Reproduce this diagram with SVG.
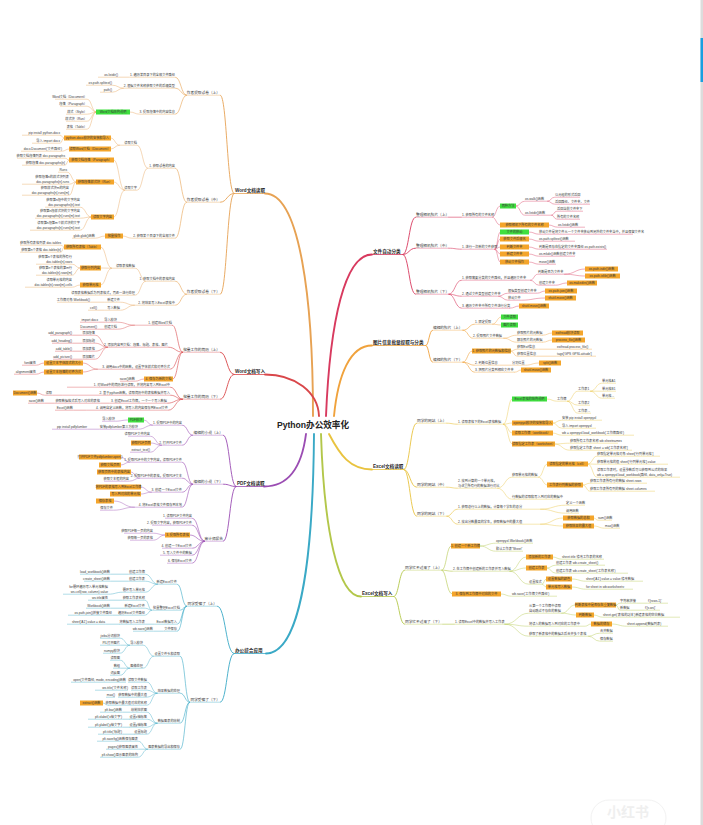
<svg xmlns="http://www.w3.org/2000/svg" width="703" height="825" viewBox="0 0 703 825">
<style>
.t{font-family:"Liberation Sans","Noto Sans CJK SC",sans-serif;font-size:3.2px;fill:#3a3a3a;stroke:none;dominant-baseline:central}
.l2{font-size:3.7px;fill:#333}
.m{font-size:4.6px;font-weight:bold;fill:#2a2a2a}
.c{font-size:8.6px;font-weight:bold;fill:#222;text-anchor:middle}
.e{text-anchor:end}
.mi{text-anchor:middle}
.ob{fill:#f4a52b;stroke:none}
.gb{fill:#3fe03f;stroke:none}
.u{stroke-width:0.4;fill:none}
.um{stroke-width:0.8;fill:none}
.k{fill:none;stroke-linecap:round}
.w0{stroke-width:1.9}
.w1{stroke-width:0.9}
.w2{stroke-width:0.6}
.w3{stroke-width:0.42}
.A{stroke:#e7a253}.B{stroke:#d9474a}.C{stroke:#9b4db3}.D{stroke:#3aa9c6}.E{stroke:#d83a5f}.F{stroke:#f0a23c}.G{stroke:#e9c33f}.H{stroke:#b3c74a}
.wm{font-family:"Noto Sans CJK SC",sans-serif;font-size:14px;font-weight:bold;fill:#efefef;text-anchor:middle}
</style>
<rect width="703" height="825" fill="#ffffff"/>
<rect x="700.5" y="0" width="2.5" height="825" fill="#dcdcdc"/>
<rect x="700.5" y="38" width="2.5" height="44" fill="#1a9fe0"/>
<g id="watermark"><rect x="591" y="800" width="75" height="36" rx="18" fill="none" stroke="#f2f2f2" stroke-width="1"/><text class="wm" x="628" y="817">小红书</text></g>

<g id="connectors">
 <g class="k w0">
  <path class="A" d="M313,416 C313,300 300,193.5 265,193.5"/>
  <path class="B" d="M319,416 C318,392 295,374.5 265,374.5"/>
  <path class="E" d="M326,416 C330,320 345,254.5 372,254.5"/>
  <path class="F" d="M334,416 C338,375 350,345.5 372,345.5"/>
  <path class="C" d="M306,434 C302,465 290,486.5 264,486.5"/>
  <path class="D" d="M314,434 C313,560 300,653.5 266,653.5"/>
  <path class="H" d="M321,434 C324,530 338,596.5 361,596.5"/>
  <path class="G" d="M329,434 C340,455 350,469.5 372,469.5"/>
 </g>
 <g class="k A w1">
  <path d="M234,193.5 C227,193.5 227,95.2 220.5,95.2"/>
  <path d="M234,193.5 C227,193.5 227,202.2 220.5,202.2"/>
  <path d="M234,193.5 C227,193.5 227,294.2 220.5,294.2"/>
 </g>
 <g class="k A w2">
  <path d="M186.5,95.2 C181,95.2 181,77.2 175.5,77.2"/>
  <path d="M186.5,95.2 C181,95.2 181,88.2 175.5,88.2"/>
  <path d="M186.5,95.2 C181,95.2 181,114.2 175.5,114.2"/>
  <path d="M186.5,202.2 C181,202.2 181,168.2 175.5,168.2"/>
  <path d="M186.5,202.2 C181,202.2 181,238.2 175.5,238.2"/>
  <path d="M186.5,294.2 C181,294.2 181,281.2 175.5,281.2"/>
  <path d="M186.5,294.2 C181,294.2 181,305.2 175.5,305.2"/>
 </g>
 <g class="k A w3">
  <path d="M129.5,77.2 L118.5,77.2"/>
  <path d="M123.5,88.2 C118,88.2 118,85.2 112.5,85.2"/>
  <path d="M123.5,88.2 C118,88.2 118,92.2 112.5,92.2"/>
  <path d="M139.5,114.2 C134.7,114.2 134.7,112 130,112"/>
  <path d="M96,112 C91.7,112 91.7,99.2 87.5,99.2"/>
  <path d="M96,112 C91.7,112 91.7,106.2 87.5,106.2"/>
  <path d="M96,112 C91.7,112 91.7,114.2 87.5,114.2"/>
  <path d="M96,112 C91.7,112 91.7,121.2 87.5,121.2"/>
  <path d="M96,112 C91.7,112 91.7,129.2 87.5,129.2"/>
  <path d="M147.5,168.2 C142.5,168.2 142.5,145.2 137.5,145.2"/>
  <path d="M147.5,168.2 C142.5,168.2 142.5,190.2 137.5,190.2"/>
  <path d="M119.5,145.2 C115,145.2 115,138 111,138"/>
  <path d="M119.5,145.2 C115,145.2 115,149 111,149"/>
  <path d="M64,138 C62,138 62,135.2 60.5,135.2"/>
  <path d="M64,138 C62,138 62,143.2 60.5,143.2"/>
  <path d="M69,149 C65.5,149 65.5,151.2 62.5,151.2"/>
  <path d="M124.5,190.2 C119,190.2 119,160 114,160"/>
  <path d="M124.5,190.2 C119,190.2 119,182 114,182"/>
  <path d="M124.5,190.2 C119,190.2 119,217 114,217"/>
  <path d="M69,160 C67,160 67,158.2 65.5,158.2"/>
  <path d="M69,160 C67,160 67,165.2 65.5,165.2"/>
  <path d="M76,182 C71.7,182 71.7,172.2 67.5,172.2"/>
  <path d="M76,182 C72.7,182 72.7,184.2 69.5,184.2"/>
  <path d="M76,182 C72.7,182 72.7,195.2 69.5,195.2"/>
  <path d="M91,217 C85.7,217 85.7,207.2 80.5,207.2"/>
  <path d="M91,217 C85.7,217 85.7,218.2 80.5,218.2"/>
  <path d="M91,217 C85.7,217 85.7,230.2 80.5,230.2"/>
  <path d="M131.5,238.2 C127,238.2 127,236 123,236"/>
  <path d="M105,236 C100,236 100,238.2 95.5,238.2"/>
  <path d="M145.5,281.2 C140.5,281.2 140.5,268.2 135.5,268.2"/>
  <path d="M145.5,281.2 C140.5,281.2 140.5,295.2 135.5,295.2"/>
  <path d="M111.5,268.2 C106,268.2 106,247 101,247"/>
  <path d="M111.5,268.2 C106,268.2 106,268 101,268"/>
  <path d="M111.5,268.2 C106,268.2 106,285 101,285"/>
  <path d="M64,247 C62.5,247 62.5,245.2 61.5,245.2"/>
  <path d="M64,247 C62.5,247 62.5,252.2 61.5,252.2"/>
  <path d="M80,268 C76,268 76,264.2 72.5,264.2"/>
  <path d="M80,268 C76,268 76,275.2 72.5,275.2"/>
  <path d="M80,285 C76,285 76,287.2 72.5,287.2"/>
  <path d="M134.5,305.2 C127.5,305.2 127.5,302.2 120.5,302.2"/>
  <path d="M134.5,305.2 C127.5,305.2 127.5,310.2 120.5,310.2"/>
  <path d="M104.5,302.2 L90.5,302.2"/>
  <path d="M104.5,310.2 L97.5,310.2"/>
 </g>
 <g class="k B w1">
  <path d="M234,374.5 C227,374.5 227,352.2 220.5,352.2"/>
  <path d="M234,374.5 C227,374.5 227,399.2 220.5,399.2"/>
 </g>
 <g class="k B w2">
  <path d="M182.5,352.2 C177.5,352.2 177.5,325.2 172.5,325.2"/>
  <path d="M182.5,352.2 C175.5,352.2 175.5,347.2 168.5,347.2"/>
  <path d="M182.5,352.2 C176.5,352.2 176.5,369.2 170.5,369.2"/>
  <path d="M182.5,352.2 C177.7,352.2 177.7,379 173,379"/>
  <path d="M182.5,399.2 C176.5,399.2 176.5,387.2 170.5,387.2"/>
  <path d="M182.5,399.2 C176.5,399.2 176.5,395.2 170.5,395.2"/>
  <path d="M182.5,399.2 C175,399.2 175,403.2 167.5,403.2"/>
  <path d="M182.5,399.2 C175.5,399.2 175.5,410.2 168.5,410.2"/>
 </g>
 <g class="k B w3">
  <path d="M134.5,325.2 C126,325.2 126,322.2 117.5,322.2"/>
  <path d="M134.5,325.2 C126,325.2 126,329.2 117.5,329.2"/>
  <path d="M105.5,322.2 L98.5,322.2"/>
  <path d="M105.5,329.2 L97.5,329.2"/>
  <path d="M107.5,347.2 C101.5,347.2 101.5,335.2 95.5,335.2"/>
  <path d="M107.5,347.2 C101.5,347.2 101.5,343.2 95.5,343.2"/>
  <path d="M107.5,347.2 C101.5,347.2 101.5,351.2 95.5,351.2"/>
  <path d="M107.5,347.2 C101.5,347.2 101.5,359.2 95.5,359.2"/>
  <path d="M82.5,335.2 L72.5,335.2"/>
  <path d="M82.5,343.2 L72.5,343.2"/>
  <path d="M82.5,351.2 L72.5,351.2"/>
  <path d="M82.5,359.2 L72.5,359.2"/>
  <path d="M97.5,369.2 C90,369.2 90,363 83,363"/>
  <path d="M97.5,369.2 C90,369.2 90,372 83,372"/>
  <path d="M44,363 C40,363 40,365.2 36.5,365.2"/>
  <path d="M44,372 C40,372 40,374.2 36.5,374.2"/>
  <path d="M144,379 C139.7,379 139.7,381.2 135.5,381.2"/>
  <path d="M62.5,395.2 L52.5,395.2"/>
  <path d="M44.5,395.2 C41,395.2 41,393 37,393"/>
  <path d="M109.5,403.2 L100.5,403.2"/>
  <path d="M54.5,403.2 L44.5,403.2"/>
  <path d="M86.5,410.2 L73.5,410.2"/>
 </g>
 <g class="k C w1">
  <path d="M236,486.5 C229.7,486.5 229.7,435.2 223.5,435.2"/>
  <path d="M236,486.5 C229.7,486.5 229.7,484.2 223.5,484.2"/>
  <path d="M236,486.5 C229.7,486.5 229.7,541.2 223.5,541.2"/>
 </g>
 <g class="k C w2">
  <path d="M192.5,435.2 C187.5,435.2 187.5,425.2 182.5,425.2"/>
  <path d="M192.5,435.2 C187.5,435.2 187.5,445.2 182.5,445.2"/>
  <path d="M192.5,484.2 C187.5,484.2 187.5,462.2 182.5,462.2"/>
  <path d="M192.5,484.2 C187.5,484.2 187.5,478.2 182.5,478.2"/>
  <path d="M192.5,484.2 C187.5,484.2 187.5,492.2 182.5,492.2"/>
  <path d="M192.5,484.2 C187.5,484.2 187.5,507.2 182.5,507.2"/>
  <path d="M204.5,541.2 C198.5,541.2 198.5,518.2 192.5,518.2"/>
  <path d="M204.5,541.2 C198.5,541.2 198.5,525.2 192.5,525.2"/>
  <path d="M204.5,541.2 C197,541.2 197,535 190,535"/>
  <path d="M204.5,541.2 C198.5,541.2 198.5,548.2 192.5,548.2"/>
  <path d="M204.5,541.2 C198.5,541.2 198.5,555.2 192.5,555.2"/>
  <path d="M204.5,541.2 C198.5,541.2 198.5,563.2 192.5,563.2"/>
 </g>
 <g class="k C w3">
  <path d="M152.5,425.2 C148,425.2 148,420 144,420"/>
  <path d="M128,420 C121.7,420 121.7,421.2 115.5,421.2"/>
  <path d="M152.5,425.2 C145.5,425.2 145.5,429.2 138.5,429.2"/>
  <path d="M99.5,429.2 L87.5,429.2"/>
  <path d="M161.5,445.2 C156,445.2 156,436.2 150.5,436.2"/>
  <path d="M161.5,445.2 C156,445.2 156,443 151,443"/>
  <path d="M161.5,445.2 C156,445.2 156,452.2 150.5,452.2"/>
  <path d="M129.5,462.2 C125,462.2 125,457 121,457"/>
  <path d="M129.5,462.2 C125,462.2 125,465 121,465"/>
  <path d="M139.5,478.2 C135,478.2 135,472 131,472"/>
  <path d="M139.5,478.2 C134.5,478.2 134.5,481.2 129.5,481.2"/>
  <path d="M151.5,492.2 C146,492.2 146,487 141,487"/>
  <path d="M151.5,492.2 C146,492.2 146,494 141,494"/>
  <path d="M134.5,507.2 C124,507.2 124,501 114,501"/>
  <path d="M134.5,507.2 C124,507.2 124,510.2 113.5,510.2"/>
  <path d="M165,535 C159,535 159,533.2 153.5,533.2"/>
  <path d="M165,535 C159,535 159,540.2 153.5,540.2"/>
 </g>
 <g class="k D w1">
  <path d="M234,653.5 C225.7,653.5 225.7,606.2 217.5,606.2"/>
  <path d="M234,653.5 C227,653.5 227,702.2 220.5,702.2"/>
 </g>
 <g class="k D w2">
  <path d="M186.5,606.2 C182,606.2 182,584.2 177.5,584.2"/>
  <path d="M186.5,606.2 C183.5,606.2 183.5,610.2 180.5,610.2"/>
  <path d="M186.5,606.2 C182,606.2 182,624.2 177.5,624.2"/>
  <path d="M186.5,606.2 C182,606.2 182,631.2 177.5,631.2"/>
  <path d="M189.5,702.2 C185,702.2 185,656.2 180.5,656.2"/>
  <path d="M189.5,702.2 C185,702.2 185,693.2 180.5,693.2"/>
  <path d="M189.5,702.2 C185,702.2 185,723.2 180.5,723.2"/>
  <path d="M189.5,702.2 C185,702.2 185,749.2 180.5,749.2"/>
 </g>
 <g class="k D w3">
  <path d="M157.5,584.2 C151.5,584.2 151.5,574.2 145.5,574.2"/>
  <path d="M157.5,584.2 C151.5,584.2 151.5,581.2 145.5,581.2"/>
  <path d="M157.5,584.2 C151.5,584.2 151.5,592.2 145.5,592.2"/>
  <path d="M128.5,574.2 L110.5,574.2"/>
  <path d="M128.5,581.2 L110.5,581.2"/>
  <path d="M122.5,592.2 C115.5,592.2 115.5,594.2 108.5,594.2"/>
  <path d="M151.5,610.2 C148.5,610.2 148.5,600.2 145.5,600.2"/>
  <path d="M151.5,610.2 C148.5,610.2 148.5,608.2 145.5,608.2"/>
  <path d="M151.5,610.2 C148.5,610.2 148.5,615.2 145.5,615.2"/>
  <path d="M122.5,600.2 L108.5,600.2"/>
  <path d="M125.5,608.2 L110.5,608.2"/>
  <path d="M119.5,615.2 L112.5,615.2"/>
  <path d="M154.5,624.2 L145.5,624.2"/>
  <path d="M119,624.2 L105.5,624.2"/>
  <path d="M163.5,631.2 L153.5,631.2"/>
  <path d="M153.5,656.2 C148.5,656.2 148.5,645.2 143.5,645.2"/>
  <path d="M153.5,656.2 C148.5,656.2 148.5,668.2 143.5,668.2"/>
  <path d="M129.5,645.2 C125,645.2 125,638.2 120.5,638.2"/>
  <path d="M129.5,645.2 L120.5,645.2"/>
  <path d="M129.5,645.2 C125,645.2 125,653.2 120.5,653.2"/>
  <path d="M129.5,668.2 C125,668.2 125,660.2 120.5,660.2"/>
  <path d="M129.5,668.2 L120.5,668.2"/>
  <path d="M129.5,668.2 C125,668.2 125,675.2 120.5,675.2"/>
  <path d="M157,693.2 C152,693.2 152,682.2 147.5,682.2"/>
  <path d="M157,693.2 C152,693.2 152,690.2 147.5,690.2"/>
  <path d="M157,693.2 C152,693.2 152,697.2 147.5,697.2"/>
  <path d="M157,693.2 C152,693.2 152,705.2 147.5,705.2"/>
  <path d="M108,705.2 C105.5,705.2 105.5,703 103,703"/>
  <path d="M157,723.2 C152,723.2 152,712.2 147.5,712.2"/>
  <path d="M157,723.2 C152,723.2 152,719.2 147.5,719.2"/>
  <path d="M157,723.2 C152,723.2 152,727.2 147.5,727.2"/>
  <path d="M157,723.2 C152,723.2 152,734.2 147.5,734.2"/>
  <path d="M130.5,712.2 L122.5,712.2"/>
  <path d="M129,719.2 L122.5,719.2"/>
  <path d="M129,727.2 L122.5,727.2"/>
  <path d="M134,734.2 L122.5,734.2"/>
  <path d="M147.5,749.2 C143,749.2 143,741.2 138.5,741.2"/>
  <path d="M147.5,749.2 L138.5,749.2"/>
  <path d="M147.5,749.2 C143,749.2 143,757.2 138.5,757.2"/>
 </g>
 <g class="k E w1">
  <path d="M403,254.5 C409,254.5 409,217.2 415.5,217.2"/>
  <path d="M403,254.5 C409,254.5 409,248.2 415.5,248.2"/>
  <path d="M403,254.5 C409,254.5 409,294.2 415.5,294.2"/>
 </g>
 <g class="k E w2">
  <path d="M449,217.2 L461.5,217.2"/>
  <path d="M449,248.2 C455,248.2 455,249.2 461.5,249.2"/>
  <path d="M449,294.2 C455,294.2 455,280.2 461.5,280.2"/>
  <path d="M449,294.2 C455,294.2 455,296.2 461.5,296.2"/>
  <path d="M449,294.2 C455,294.2 455,308.2 461.5,308.2"/>
 </g>
 <g class="k E w3">
  <path d="M492.5,217.2 C496,217.2 496,206 500,206"/>
  <path d="M516,206 C520,206 520,201.2 524.5,201.2"/>
  <path d="M547.5,201.2 C551,201.2 551,197.2 554.5,197.2"/>
  <path d="M547.5,201.2 C551,201.2 551,204.2 554.5,204.2"/>
  <path d="M516,206 C520,206 520,215.2 524.5,215.2"/>
  <path d="M552,215.2 C554,215.2 554,211.2 556.5,211.2"/>
  <path d="M552,215.2 C554,215.2 554,219.2 556.5,219.2"/>
  <path d="M492.5,217.2 C496,217.2 496,225 500,225"/>
  <path d="M549,225 C553,225 553,227.2 557.5,227.2"/>
  <path d="M495,249.2 C497.5,249.2 497.5,232 500,232"/>
  <path d="M495,249.2 C497.5,249.2 497.5,239 500,239"/>
  <path d="M495,249.2 C497.5,249.2 497.5,247 500,247"/>
  <path d="M495,249.2 C497.5,249.2 497.5,254 500,254"/>
  <path d="M495,249.2 C497.5,249.2 497.5,262 500,262"/>
  <path d="M529,232 C534,232 534,234.2 538.5,234.2"/>
  <path d="M529,239 C534,239 534,241.2 538.5,241.2"/>
  <path d="M529,247 C534,247 534,249.2 538.5,249.2"/>
  <path d="M529,254 C534,254 534,256.2 538.5,256.2"/>
  <path d="M529,262 C534,262 534,264.2 538.5,264.2"/>
  <path d="M530.5,280.2 C534,280.2 534,274.2 537.5,274.2"/>
  <path d="M564.5,274.2 C575,274.2 575,269 585,269"/>
  <path d="M564.5,274.2 C575,274.2 575,276 585,276"/>
  <path d="M530.5,280.2 C534.5,280.2 534.5,285.2 538.5,285.2"/>
  <path d="M555.5,285.2 C561,285.2 561,283 567,283"/>
  <path d="M498.5,296.2 C503,296.2 503,293.2 507.5,293.2"/>
  <path d="M537.5,293.2 C541,293.2 541,291 545,291"/>
  <path d="M498.5,296.2 C503,296.2 503,300.2 507.5,300.2"/>
  <path d="M521.5,300.2 C533,300.2 533,298 545,298"/>
  <path d="M510,308.2 C514.5,308.2 514.5,306 519,306"/>
 </g>
 <g class="k F w1">
  <path d="M426,345.5 C429,345.5 429,330.2 432.5,330.2"/>
  <path d="M426,345.5 C429,345.5 429,362.2 432.5,362.2"/>
 </g>
 <g class="k F w2">
  <path d="M463,330.2 C469,330.2 469,324.2 474.5,324.2"/>
  <path d="M463,330.2 C468,330.2 468,338.2 472.5,338.2"/>
  <path d="M463,362.2 C467.5,362.2 467.5,351 472,351"/>
  <path d="M463,362.2 C469,362.2 469,365.2 474.5,365.2"/>
  <path d="M463,362.2 C469,362.2 469,372.2 474.5,372.2"/>
 </g>
 <g class="k F w3">
  <path d="M492.5,324.2 C497,324.2 497,317 501,317"/>
  <path d="M492.5,324.2 C497,324.2 497,325 501,325"/>
  <path d="M504,338.2 C510,338.2 510,335.2 516.5,335.2"/>
  <path d="M543,335.2 C547.5,335.2 547.5,333 552,333"/>
  <path d="M504,338.2 C510,338.2 510,342.2 516.5,342.2"/>
  <path d="M543,342.2 C547.5,342.2 547.5,340 552,340"/>
  <path d="M511,351 C514,351 514,349.2 516.5,349.2"/>
  <path d="M538.5,349.2 L556.5,349.2"/>
  <path d="M511,351 C514,351 514,356.2 516.5,356.2"/>
  <path d="M536.5,356.2 L556.5,356.2"/>
  <path d="M499.5,365.2 L511.5,365.2"/>
  <path d="M525.5,365.2 C532,365.2 532,363 539,363"/>
  <path d="M515,372.2 C518,372.2 518,370 521,370"/>
 </g>
 <g class="k G w1">
  <path d="M404,469.5 C410,469.5 410,423.2 416.5,423.2"/>
  <path d="M404,469.5 C410,469.5 410,487.2 416.5,487.2"/>
  <path d="M404,469.5 C410,469.5 410,516.2 416.5,516.2"/>
 </g>
 <g class="k G w2">
  <path d="M447,423.2 C452,423.2 452,424.2 457.5,424.2"/>
  <path d="M447,487.2 C452,487.2 452,488.2 457.5,488.2"/>
  <path d="M447,516.2 C452,516.2 452,509.2 457.5,509.2"/>
  <path d="M447,516.2 C452,516.2 452,524.2 457.5,524.2"/>
 </g>
 <g class="k G w3">
  <path d="M503.5,424.2 C508,424.2 508,399 512,399"/>
  <path d="M547,399 C552,399 552,401.2 556.5,401.2"/>
  <path d="M567.5,401.2 C572.5,401.2 572.5,391.2 577.5,391.2"/>
  <path d="M590.5,391.2 C596,391.2 596,383.2 601.5,383.2"/>
  <path d="M590.5,391.2 L601.5,391.2"/>
  <path d="M590.5,391.2 C596,391.2 596,398.2 601.5,398.2"/>
  <path d="M567.5,401.2 C572.5,401.2 572.5,405.2 577.5,405.2"/>
  <path d="M567.5,401.2 C572.5,401.2 572.5,413.2 577.5,413.2"/>
  <path d="M503.5,424.2 C508,424.2 508,423 512,423"/>
  <path d="M553,423 C557,423 557,420.2 561.5,420.2"/>
  <path d="M553,423 C557,423 557,428.2 561.5,428.2"/>
  <path d="M503.5,424.2 C508,424.2 508,433 512,433"/>
  <path d="M553,433 C557,433 557,435.2 561.5,435.2"/>
  <path d="M503.5,424.2 C508,424.2 508,444 512,444"/>
  <path d="M555,444 C562,444 562,443.2 569.5,443.2"/>
  <path d="M555,444 C562,444 562,450.2 569.5,450.2"/>
  <path d="M497.5,488.2 C505,488.2 505,477.2 511.5,477.2"/>
  <path d="M538.5,477.2 C543,477.2 543,464 547,464"/>
  <path d="M588,464 C592.5,464 592.5,456.2 596.5,456.2"/>
  <path d="M588,464 C592.5,464 592.5,464.2 596.5,464.2"/>
  <path d="M588,464 C592.5,464 592.5,477.2 596.5,477.2"/>
  <path d="M538.5,477.2 C543,477.2 543,485 547,485"/>
  <path d="M583,485 C586.5,485 586.5,483.2 589.5,483.2"/>
  <path d="M583,485 C586.5,485 586.5,491.2 589.5,491.2"/>
  <path d="M497.5,488.2 C505,488.2 505,499.2 511.5,499.2"/>
  <path d="M540.5,509.2 C553,509.2 553,505.2 565.5,505.2"/>
  <path d="M540.5,509.2 C553,509.2 553,513.2 565.5,513.2"/>
  <path d="M540.5,524.2 C552,524.2 552,518 563,518"/>
  <path d="M594,518 C596,518 596,520.2 597.5,520.2"/>
  <path d="M540.5,524.2 C552,524.2 552,526 563,526"/>
  <path d="M594,526 C599,526 599,528.2 604.5,528.2"/>
 </g>
 <g class="k H w1">
  <path d="M394,596.5 C399,596.5 399,570.2 404.5,570.2"/>
  <path d="M394,596.5 C399,596.5 399,624.2 404.5,624.2"/>
 </g>
 <g class="k H w2">
  <path d="M442,570.2 C446.5,570.2 446.5,546 451,546"/>
  <path d="M442,570.2 C447,570.2 447,571.2 452.5,571.2"/>
  <path d="M442,570.2 C446.5,570.2 446.5,594 452,594"/>
  <path d="M442.5,624.2 L454.5,624.2"/>
 </g>
 <g class="k H w3">
  <path d="M480,546 C488,546 488,543.2 495.5,543.2"/>
  <path d="M480,546 C488,546 488,551.2 495.5,551.2"/>
  <path d="M510,571.2 C518,571.2 518,557 526,557"/>
  <path d="M553,557 C557,557 557,559.2 561.5,559.2"/>
  <path d="M510,571.2 C518,571.2 518,568 526,568"/>
  <path d="M547,568 C551,568 551,565.2 555.5,565.2"/>
  <path d="M547,568 C551,568 551,573.2 555.5,573.2"/>
  <path d="M510,571.2 C519,571.2 519,584.2 528.5,584.2"/>
  <path d="M542.5,584.2 C544,584.2 544,579 546,579"/>
  <path d="M542.5,584.2 C544,584.2 544,587 546,587"/>
  <path d="M572,579 C579,579 579,581.2 585.5,581.2"/>
  <path d="M572,587 C579,587 579,589.2 585.5,589.2"/>
  <path d="M501,594 C506,594 506,596.2 511.5,596.2"/>
  <path d="M505,624.2 C517,624.2 517,613.2 528.5,613.2"/>
  <path d="M562,613.2 C568.5,613.2 568.5,605 575,605"/>
  <path d="M616,605 C618,605 618,603.2 619.5,603.2"/>
  <path d="M636.5,603.2 L647.5,603.2"/>
  <path d="M616,605 C618,605 618,610.2 619.5,610.2"/>
  <path d="M630.5,610.2 L644.5,610.2"/>
  <path d="M562,613.2 C569,613.2 569,615 576,615"/>
  <path d="M594,615 C598,615 598,617.2 602.5,617.2"/>
  <path d="M505,624.2 C517,624.2 517,626.2 528.5,626.2"/>
  <path d="M585.5,626.2 C588,626.2 588,624 591,624"/>
  <path d="M612,624 C619,624 619,626.2 626.5,626.2"/>
  <path d="M505,624.2 C517,624.2 517,636.2 528.5,636.2"/>
  <path d="M588.5,636.2 C594,636.2 594,633.2 599.5,633.2"/>
  <path d="M588.5,636.2 C594,636.2 594,641.2 599.5,641.2"/>
 </g>
</g>

<g id="center"><text class="t c" x="313" y="425">Python办公效率化</text></g>

<g id="branch-word-read" class="A">
 <g id="A0"><line class="um" x1="234" y1="193.5" x2="265" y2="193.5"/><text class="t m" x="235" y="190.5">Word文档读取</text></g>
 <g id="A1"><line class="u" x1="187" y1="95.2" x2="220" y2="95.2"/><text class="t l2 e" x="220" y="93">作者提取试卷（上）</text></g>
 <g id="A2"><line class="u" x1="187" y1="202.2" x2="220" y2="202.2"/><text class="t l2 e" x="220" y="200">作者提取试卷（中）</text></g>
 <g id="A3"><line class="u" x1="187" y1="294.2" x2="220" y2="294.2"/><text class="t l2 e" x="220" y="292">作者提取试卷（下）</text></g>
 <g id="A1a"><line class="u" x1="130" y1="77.2" x2="175" y2="77.2"/><text class="t e" x="175" y="75">1. 遍历某目录下的全部文件路径</text></g>
 <g id="A1a1"><line class="u" x1="98" y1="77.2" x2="118" y2="77.2"/><text class="t e" x="118" y="75">os.listdir()</text></g>
 <g id="A1b"><line class="u" x1="124" y1="88.2" x2="175" y2="88.2"/><text class="t e" x="175" y="86">2. 根据文件名称获取文件的后缀类型</text></g>
 <g id="A1b1"><line class="u" x1="86" y1="85.2" x2="112" y2="85.2"/><text class="t e" x="112" y="83">os.path.splitext()</text></g>
 <g id="A1b2"><line class="u" x1="100" y1="92.2" x2="112" y2="92.2"/><text class="t e" x="112" y="90">path()</text></g>
 <g id="A1c"><line class="u" x1="140" y1="114.2" x2="175" y2="114.2"/><text class="t e" x="175" y="112">3. 提取段落中的内容信息</text></g>
 <g id="A1cg"><rect class="gb" x="96" y="109.5" width="34" height="5"/><text class="t mi" x="113" y="112">Word文档结构说明</text></g>
 <g id="A1c1"><line class="u" x1="55" y1="99.2" x2="87" y2="99.2"/><text class="t e" x="87" y="97">Word文档（Document）</text></g>
 <g id="A1c2"><line class="u" x1="60" y1="106.2" x2="87" y2="106.2"/><text class="t e" x="87" y="104">段落（Paragraph）</text></g>
 <g id="A1c3"><line class="u" x1="66" y1="114.2" x2="87" y2="114.2"/><text class="t e" x="87" y="112">样式（Style）</text></g>
 <g id="A1c4"><line class="u" x1="66" y1="121.2" x2="87" y2="121.2"/><text class="t e" x="87" y="119">样式块（Run）</text></g>
 <g id="A1c5"><line class="u" x1="66" y1="129.2" x2="87" y2="129.2"/><text class="t e" x="87" y="127">表格（Table）</text></g>
 <g id="A2a"><line class="u" x1="148" y1="168.2" x2="175" y2="168.2"/><text class="t e" x="175" y="166">1. 获取试卷的内容</text></g>
 <g id="A2a1"><line class="u" x1="120" y1="145.2" x2="137" y2="145.2"/><text class="t e" x="137" y="143">读取文档</text></g>
 <g id="A2a1o1"><rect class="ob" x="64" y="135.5" width="47" height="5"/><text class="t mi" x="87.5" y="138">python-docx模块的安装和导入</text></g>
 <g id="A2a1o1a"><line class="u" x1="22" y1="135.2" x2="60" y2="135.2"/><text class="t e" x="60" y="133">pip install python-docx</text></g>
 <g id="A2a1o1b"><line class="u" x1="32" y1="143.2" x2="60" y2="143.2"/><text class="t e" x="60" y="141">导入 import docx</text></g>
 <g id="A2a1o2"><rect class="ob" x="69" y="146.5" width="42" height="5"/><text class="t mi" x="90" y="149">读取Word文档（Document）</text></g>
 <g id="A2a1o2a"><line class="u" x1="21" y1="151.2" x2="62" y2="151.2"/><text class="t e" x="62" y="149">docx.Document('文件路径')</text></g>
 <g id="A2a2"><line class="u" x1="125" y1="190.2" x2="137" y2="190.2"/><text class="t e" x="137" y="188">读取文字</text></g>
 <g id="A2a2o1"><rect class="ob" x="69" y="157.5" width="45" height="5"/><text class="t mi" x="91.5" y="160">获取文档段落（Paragraph）</text></g>
 <g id="A2a2o1a"><line class="u" x1="17" y1="158.2" x2="65" y2="158.2"/><text class="t e" x="65" y="156">获取文档段落列表 doc.paragraphs</text></g>
 <g id="A2a2o1b"><line class="u" x1="22" y1="165.2" x2="65" y2="165.2"/><text class="t e" x="65" y="163">获取段落 doc.paragraphs[n]</text></g>
 <g id="A2a2o2"><rect class="ob" x="76" y="179.5" width="38" height="5"/><text class="t mi" x="95" y="182">获取段落样式块（Run）</text></g>
 <g id="A2a2o2a"><line class="u" x1="58" y1="172.2" x2="67" y2="172.2"/><text class="t e" x="67" y="170">Runs</text></g>
 <g id="A2a2o2b"><line class="u" x1="22" y1="184.2" x2="69" y2="184.2"/><text class="t e" x="69" y="177">获取段落n的样式块列表</text><text class="t e" x="69" y="182">doc.paragraphs[n].runs</text></g>
 <g id="A2a2o2c"><line class="u" x1="22" y1="195.2" x2="69" y2="195.2"/><text class="t e" x="69" y="188">获取样式块m的内容</text><text class="t e" x="69" y="193">doc.paragraphs[n].runs[m]</text></g>
 <g id="A2a2o3"><rect class="ob" x="91" y="214.5" width="23" height="5"/><text class="t mi" x="102.5" y="217">读取文字内容</text></g>
 <g id="A2a2o3a"><line class="u" x1="45" y1="207.2" x2="80" y2="207.2"/><text class="t e" x="80" y="200">获取第n段中的文字内容</text><text class="t e" x="80" y="205">doc.paragraphs[n].text</text></g>
 <g id="A2a2o3b"><line class="u" x1="35" y1="218.2" x2="80" y2="218.2"/><text class="t e" x="80" y="211">获取第n段样式块的文字内容</text><text class="t e" x="80" y="216">doc.paragraphs[n].runs[m].text</text></g>
 <g id="A2a2o3c"><line class="u" x1="30" y1="230.2" x2="80" y2="230.2"/><text class="t e" x="80" y="223">读取第n段第m个样式块的文字</text><text class="t e" x="80" y="228">doc.paragraphs[n].runs[m].text</text></g>
 <g id="A2b"><line class="u" x1="132" y1="238.2" x2="175" y2="238.2"/><text class="t e" x="175" y="236">2. 获取某个目录下的全部文件</text></g>
 <g id="A2bo"><rect class="ob" x="105" y="233.5" width="18" height="5"/><text class="t mi" x="114" y="236">批量操作</text></g>
 <g id="A2bo1"><line class="u" x1="72" y1="238.2" x2="95" y2="238.2"/><text class="t e" x="95" y="236">glob.glob()函数</text></g>
 <g id="A3a"><line class="u" x1="146" y1="281.2" x2="175" y2="281.2"/><text class="t e" x="175" y="279">1. 获取文档中的表格内容</text></g>
 <g id="A3a1"><line class="u" x1="112" y1="268.2" x2="135" y2="268.2"/><text class="t e" x="135" y="266">读取表格数据</text></g>
 <g id="A3a1o1"><rect class="ob" x="64" y="244.5" width="37" height="5"/><text class="t mi" x="82.5" y="247">获取所有表格（Table）</text></g>
 <g id="A3a1o1a"><line class="u" x1="20" y1="245.2" x2="61" y2="245.2"/><text class="t e" x="61" y="243">获取所有表格列表 doc.tables</text></g>
 <g id="A3a1o1b"><line class="u" x1="20" y1="252.2" x2="61" y2="252.2"/><text class="t e" x="61" y="250">获取第n个表格 doc.tables[n]</text></g>
 <g id="A3a1o2"><rect class="ob" x="80" y="265.5" width="21" height="5"/><text class="t mi" x="90.5" y="268">获取行列内容</text></g>
 <g id="A3a1o2a"><line class="u" x1="36" y1="264.2" x2="72" y2="264.2"/><text class="t e" x="72" y="257">获取第n个表格的所有行</text><text class="t e" x="72" y="262">doc.tables[n].rows</text></g>
 <g id="A3a1o2b"><line class="u" x1="36" y1="275.2" x2="72" y2="275.2"/><text class="t e" x="72" y="268">获取第n个表格的第m行</text><text class="t e" x="72" y="273">doc.tables[n].rows[m]</text></g>
 <g id="A3a1o3"><rect class="ob" x="80" y="282.5" width="21" height="5"/><text class="t mi" x="90.5" y="285">获取单元格</text></g>
 <g id="A3a1o3a"><line class="u" x1="25" y1="287.2" x2="72" y2="287.2"/><text class="t e" x="72" y="280">读取单元格的内容</text><text class="t e" x="72" y="285">doc.tables[n].rows[m].cells</text></g>
 <g id="A3a2"><line class="u" x1="74" y1="295.2" x2="135" y2="295.2"/><text class="t e" x="135" y="293">读取表格数据后为列表格式，再逐一进行处理</text></g>
 <g id="A3b"><line class="u" x1="135" y1="305.2" x2="175" y2="305.2"/><text class="t e" x="175" y="303">2. 将结果写入Excel表格中</text></g>
 <g id="A3b1"><line class="u" x1="105" y1="302.2" x2="120" y2="302.2"/><text class="t e" x="120" y="300">新建文件</text></g>
 <g id="A3b1a"><line class="u" x1="57" y1="302.2" x2="90" y2="302.2"/><text class="t e" x="90" y="300">工作簿对象 Workbook()</text></g>
 <g id="A3b2"><line class="u" x1="105" y1="310.2" x2="120" y2="310.2"/><text class="t e" x="120" y="308">写入数据</text></g>
 <g id="A3b2a"><line class="u" x1="88" y1="310.2" x2="97" y2="310.2"/><text class="t e" x="97" y="308">cell()</text></g>
</g>

<g id="branch-word-write" class="B">
 <g id="B0"><line class="um" x1="234" y1="374.5" x2="265" y2="374.5"/><text class="t m" x="235" y="371.5">Word文档写入</text></g>
 <g id="B1"><line class="u" x1="183" y1="352.2" x2="220" y2="352.2"/><text class="t l2 e" x="220" y="350">批量工作的简历（上）</text></g>
 <g id="B2"><line class="u" x1="183" y1="399.2" x2="220" y2="399.2"/><text class="t l2 e" x="220" y="397">批量工作的简历（下）</text></g>
 <g id="B1a"><line class="u" x1="135" y1="325.2" x2="172" y2="325.2"/><text class="t e" x="172" y="323">1. 创建Word文档</text></g>
 <g id="B1a1"><line class="u" x1="106" y1="322.2" x2="117" y2="322.2"/><text class="t e" x="117" y="320">导入模块</text></g>
 <g id="B1a1a"><line class="u" x1="80" y1="322.2" x2="98" y2="322.2"/><text class="t e" x="98" y="320">import docx</text></g>
 <g id="B1a2"><line class="u" x1="106" y1="329.2" x2="117" y2="329.2"/><text class="t e" x="117" y="327">创建文档</text></g>
 <g id="B1a2a"><line class="u" x1="80" y1="329.2" x2="97" y2="329.2"/><text class="t e" x="97" y="327">Document()</text></g>
 <g id="B1b"><line class="u" x1="108" y1="347.2" x2="168" y2="347.2"/><text class="t e" x="168" y="345">2. 添加内容到文档：段落、标题、表格、图片</text></g>
 <g id="B1b1"><line class="u" x1="83" y1="335.2" x2="95" y2="335.2"/><text class="t e" x="95" y="333">添加段落</text></g>
 <g id="B1b1a"><line class="u" x1="50" y1="335.2" x2="72" y2="335.2"/><text class="t e" x="72" y="333">add_paragraph()</text></g>
 <g id="B1b2"><line class="u" x1="83" y1="343.2" x2="95" y2="343.2"/><text class="t e" x="95" y="341">添加标题</text></g>
 <g id="B1b2a"><line class="u" x1="52" y1="343.2" x2="72" y2="343.2"/><text class="t e" x="72" y="341">add_heading()</text></g>
 <g id="B1b3"><line class="u" x1="83" y1="351.2" x2="95" y2="351.2"/><text class="t e" x="95" y="349">添加表格</text></g>
 <g id="B1b3a"><line class="u" x1="55" y1="351.2" x2="72" y2="351.2"/><text class="t e" x="72" y="349">add_table()</text></g>
 <g id="B1b4"><line class="u" x1="83" y1="359.2" x2="95" y2="359.2"/><text class="t e" x="95" y="357">添加图片</text></g>
 <g id="B1b4a"><line class="u" x1="53" y1="359.2" x2="72" y2="359.2"/><text class="t e" x="72" y="357">add_picture()</text></g>
 <g id="B1c"><line class="u" x1="98" y1="369.2" x2="170" y2="369.2"/><text class="t e" x="170" y="367">3. 调用docx中的函数，设置字体样式和对齐方式</text></g>
 <g id="B1co1"><rect class="ob" x="44" y="360.5" width="39" height="5"/><text class="t mi" x="63.5" y="363">设置文本字体样式的大小</text></g>
 <g id="B1co1a"><line class="u" x1="22" y1="365.2" x2="36" y2="365.2"/><text class="t e" x="36" y="363">font属性</text></g>
 <g id="B1co2"><rect class="ob" x="44" y="369.5" width="39" height="5"/><text class="t mi" x="63.5" y="372">设置文本段落的对齐方式</text></g>
 <g id="B1co2a"><line class="u" x1="14" y1="374.2" x2="36" y2="374.2"/><text class="t e" x="36" y="372">alignment属性</text></g>
 <g id="B1d"><rect class="ob" x="144" y="376.5" width="29" height="5"/><text class="t mi" x="158.5" y="379">4. 保存为新的文档</text></g>
 <g id="B1d1"><line class="u" x1="120" y1="381.2" x2="135" y2="381.2"/><text class="t e" x="135" y="379">save()函数</text></g>
 <g id="B2a"><line class="u" x1="67" y1="387.2" x2="170" y2="387.2"/><text class="t e" x="170" y="385">1. 对Word中的简历进行读取，并将内容写入到Excel中</text></g>
 <g id="B2b"><line class="u" x1="63" y1="395.2" x2="170" y2="395.2"/><text class="t e" x="170" y="393">2. 基于python函数，读取简历中的表格数据并写入</text></g>
 <g id="B2b1"><line class="u" x1="45" y1="395.2" x2="52" y2="395.2"/><text class="t e" x="52" y="393">读取</text></g>
 <g id="B2b1o"><rect class="ob" x="13" y="390.5" width="24" height="5"/><text class="t mi" x="25" y="393">Document()函数</text></g>
 <g id="B2c"><line class="u" x1="110" y1="403.2" x2="167" y2="403.2"/><text class="t e" x="167" y="401">3. 创建Excel工作簿，一个一个写入数据</text></g>
 <g id="B2c1"><line class="u" x1="55" y1="403.2" x2="100" y2="403.2"/><text class="t e" x="100" y="401">获取数据格式后写入对应的表格</text></g>
 <g id="B2c1a"><line class="u" x1="28" y1="403.2" x2="44" y2="403.2"/><text class="t e" x="44" y="401">save()函数</text></g>
 <g id="B2d"><line class="u" x1="87" y1="410.2" x2="168" y2="410.2"/><text class="t e" x="168" y="408">4. 调用自定义函数，将写入的内容保存到Excel文件</text></g>
 <g id="B2d1"><line class="u" x1="55" y1="410.2" x2="73" y2="410.2"/><text class="t e" x="73" y="408">Excel()函数</text></g>
</g>

<g id="branch-pdf" class="C">
 <g id="C0"><line class="um" x1="236" y1="486.5" x2="264" y2="486.5"/><text class="t m" x="237" y="483.5">PDF文档读取</text></g>
 <g id="C1"><line class="u" x1="193" y1="435.2" x2="223" y2="435.2"/><text class="t l2 e" x="223" y="433">编辑的小说（上）</text></g>
 <g id="C2"><line class="u" x1="193" y1="484.2" x2="223" y2="484.2"/><text class="t l2 e" x="223" y="482">编辑的小说（下）</text></g>
 <g id="C3"><line class="u" x1="205" y1="541.2" x2="223" y2="541.2"/><text class="t l2 e" x="223" y="539">审计师报告</text></g>
 <g id="C1a"><line class="u" x1="153" y1="425.2" x2="182" y2="425.2"/><text class="t e" x="182" y="423">1. 提取PDF中的内容</text></g>
 <g id="C1ag"><rect class="gb" x="128" y="417.5" width="16" height="5"/><text class="t mi" x="136" y="420">PDF模块</text></g>
 <g id="C1ag1"><line class="u" x1="102" y1="421.2" x2="115" y2="421.2"/><text class="t e" x="115" y="419">导入模块</text></g>
 <g id="C1a2"><line class="u" x1="100" y1="429.2" x2="138" y2="429.2"/><text class="t e" x="138" y="427">安装pdfplumber第三方模块</text></g>
 <g id="C1a2a"><line class="u" x1="52" y1="429.2" x2="87" y2="429.2"/><text class="t e" x="87" y="427">pip install pdfplumber</text></g>
 <g id="C1b"><line class="u" x1="162" y1="445.2" x2="182" y2="445.2"/><text class="t e" x="182" y="443">2. 打开PDF文件</text></g>
 <g id="C1b1"><line class="u" x1="128" y1="436.2" x2="150" y2="436.2"/><text class="t e" x="150" y="434">读取PDF文件内容</text></g>
 <g id="C1b2"><rect class="ob" x="131" y="440.5" width="20" height="5"/><text class="t mi" x="141" y="443">获取PDF页面</text></g>
 <g id="C1b3"><line class="u" x1="130" y1="452.2" x2="150" y2="452.2"/><text class="t e" x="150" y="450">extract_text()</text></g>
 <g id="C2a"><line class="u" x1="130" y1="462.2" x2="182" y2="462.2"/><text class="t e" x="182" y="460">1. 提取PDF中的文字内容，读取PDF文件</text></g>
 <g id="C2a1"><rect class="ob" x="79" y="454.5" width="42" height="5"/><text class="t mi" x="100" y="457">打开PDF文件pdfplumber.open()</text></g>
 <g id="C2a2"><rect class="ob" x="99" y="462.5" width="22" height="5"/><text class="t mi" x="110" y="465">获取文档页面</text></g>
 <g id="C2b"><line class="u" x1="140" y1="478.2" x2="182" y2="478.2"/><text class="t e" x="182" y="476">2. 提取PDF中的表格，提取PDF文本</text></g>
 <g id="C2b1"><rect class="ob" x="97" y="469.5" width="34" height="5"/><text class="t mi" x="114" y="472">获取页面中的表格内容</text></g>
 <g id="C2b2"><line class="u" x1="104" y1="481.2" x2="129" y2="481.2"/><text class="t e" x="129" y="479">获取文本框的内容</text></g>
 <g id="C2c"><line class="u" x1="152" y1="492.2" x2="182" y2="492.2"/><text class="t e" x="182" y="490">3. 创建一个Excel文件</text></g>
 <g id="C2c1"><rect class="ob" x="96" y="484.5" width="45" height="5"/><text class="t mi" x="118.5" y="487">将PDF的表格写入到Excel工作簿</text></g>
 <g id="C2c2"><rect class="ob" x="110" y="491.5" width="31" height="5"/><text class="t mi" x="125.5" y="494">写入到对应的单元格</text></g>
 <g id="C2d"><line class="u" x1="135" y1="507.2" x2="182" y2="507.2"/><text class="t e" x="182" y="505">4. 将Excel表格文件保存到本地</text></g>
 <g id="C2d1"><rect class="ob" x="96" y="498.5" width="18" height="5"/><text class="t mi" x="105" y="501">保存表格</text></g>
 <g id="C2d2"><line class="u" x1="100" y1="510.2" x2="113" y2="510.2"/><text class="t e" x="113" y="508">保存文件</text></g>
 <g id="C3a"><line class="u" x1="165" y1="518.2" x2="192" y2="518.2"/><text class="t e" x="192" y="516">1. 读取PDF文件内容</text></g>
 <g id="C3b"><line class="u" x1="152" y1="525.2" x2="192" y2="525.2"/><text class="t e" x="192" y="523">2. 提取文字内容，获取PDF文件</text></g>
 <g id="C3c"><rect class="ob" x="165" y="532.5" width="25" height="5"/><text class="t mi" x="177.5" y="535">3. 提取所有表格</text></g>
 <g id="C3c1"><line class="u" x1="124" y1="533.2" x2="153" y2="533.2"/><text class="t e" x="153" y="531">获取PDF每一页的内容</text></g>
 <g id="C3c2"><line class="u" x1="130" y1="540.2" x2="153" y2="540.2"/><text class="t e" x="153" y="538">获取每一页的表格</text></g>
 <g id="C3d"><line class="u" x1="162" y1="548.2" x2="192" y2="548.2"/><text class="t e" x="192" y="546">4. 创建一个Excel文件</text></g>
 <g id="C3e"><line class="u" x1="160" y1="555.2" x2="192" y2="555.2"/><text class="t e" x="192" y="553">5. 写入文件中的数据</text></g>
 <g id="C3f"><line class="u" x1="167" y1="563.2" x2="192" y2="563.2"/><text class="t e" x="192" y="561">6. 保存Excel文件</text></g>
</g>

<g id="branch-office" class="D">
 <g id="D0"><line class="um" x1="234" y1="653.5" x2="266" y2="653.5"/><text class="t m" x="235" y="650.5">办公综合应用</text></g>
 <g id="D1"><line class="u" x1="187" y1="606.2" x2="217" y2="606.2"/><text class="t l2 e" x="217" y="604">同学受骗了（上）</text></g>
 <g id="D2"><line class="u" x1="190" y1="702.2" x2="220" y2="702.2"/><text class="t l2 e" x="220" y="700">同学受骗了（下）</text></g>
 <g id="D1a"><line class="u" x1="158" y1="584.2" x2="177" y2="584.2"/><text class="t e" x="177" y="582">新建Excel文件</text></g>
 <g id="D1a1"><line class="u" x1="129" y1="574.2" x2="145" y2="574.2"/><text class="t e" x="145" y="572">创建工作簿</text></g>
 <g id="D1a1a"><line class="u" x1="80" y1="574.2" x2="110" y2="574.2"/><text class="t e" x="110" y="572">load_workbook()函数</text></g>
 <g id="D1a2"><line class="u" x1="129" y1="581.2" x2="145" y2="581.2"/><text class="t e" x="145" y="579">创建工作表</text></g>
 <g id="D1a2a"><line class="u" x1="84" y1="581.2" x2="110" y2="581.2"/><text class="t e" x="110" y="579">create_sheet()函数</text></g>
 <g id="D1a3"><line class="u" x1="123" y1="592.2" x2="145" y2="592.2"/><text class="t e" x="145" y="590">循环写入单元格</text></g>
 <g id="D1a3a"><line class="u" x1="63" y1="594.2" x2="108" y2="594.2"/><text class="t e" x="108" y="587">for循环遍历写入单元格数据</text><text class="t e" x="108" y="592">ws.cell(row, column).value</text></g>
 <g id="D1b"><line class="u" x1="152" y1="610.2" x2="180" y2="610.2"/><text class="t e" x="180" y="608">批量整理Excel文档</text></g>
 <g id="D1b1"><line class="u" x1="123" y1="600.2" x2="145" y2="600.2"/><text class="t e" x="145" y="598">获取工作表名称</text></g>
 <g id="D1b1a"><line class="u" x1="88" y1="600.2" x2="108" y2="600.2"/><text class="t e" x="108" y="598">ws.title属性</text></g>
 <g id="D1b2"><line class="u" x1="126" y1="608.2" x2="145" y2="608.2"/><text class="t e" x="145" y="606">新建Excel文件</text></g>
 <g id="D1b2a"><line class="u" x1="86" y1="608.2" x2="110" y2="608.2"/><text class="t e" x="110" y="606">Workbook()函数</text></g>
 <g id="D1b3"><line class="u" x1="120" y1="615.2" x2="145" y2="615.2"/><text class="t e" x="145" y="613">遍历Excel文件路径</text></g>
 <g id="D1b3a"><line class="u" x1="68" y1="615.2" x2="112" y2="615.2"/><text class="t e" x="112" y="613">os.path.join()拼接文件路径</text></g>
 <g id="D1c"><line class="u" x1="155" y1="624.2" x2="177" y2="624.2"/><text class="t e" x="177" y="622">Excel数据写入</text></g>
 <g id="D1c1"><line class="u" x1="119" y1="624.2" x2="145" y2="624.2"/><text class="t e" x="145" y="622">将数据写入工作表</text></g>
 <g id="D1c1a"><line class="u" x1="67" y1="624.2" x2="105" y2="624.2"/><text class="t e" x="105" y="622">sheet['A1'].value = data</text></g>
 <g id="D1d"><line class="u" x1="164" y1="631.2" x2="177" y2="631.2"/><text class="t e" x="177" y="629">文件保存</text></g>
 <g id="D1d1"><line class="u" x1="133" y1="631.2" x2="153" y2="631.2"/><text class="t e" x="153" y="629">wb.save()函数</text></g>
 <g id="D2a"><line class="u" x1="154" y1="656.2" x2="180" y2="656.2"/><text class="t e" x="180" y="654">设置文件头和读取</text></g>
 <g id="D2a1"><line class="u" x1="130" y1="645.2" x2="143" y2="645.2"/><text class="t e" x="143" y="643">导入模块</text></g>
 <g id="D2a1a"><line class="u" x1="100" y1="638.2" x2="120" y2="638.2"/><text class="t e" x="120" y="636">jieba分词模块</text></g>
 <g id="D2a1b"><line class="u" x1="100" y1="645.2" x2="120" y2="645.2"/><text class="t e" x="120" y="643">PIL打开图片</text></g>
 <g id="D2a1c"><line class="u" x1="103" y1="653.2" x2="120" y2="653.2"/><text class="t e" x="120" y="651">numpy模块</text></g>
 <g id="D2a2"><line class="u" x1="130" y1="668.2" x2="143" y2="668.2"/><text class="t e" x="143" y="666">图像处理</text></g>
 <g id="D2a2a"><line class="u" x1="110" y1="660.2" x2="120" y2="660.2"/><text class="t e" x="120" y="658">读取图</text></g>
 <g id="D2a2b"><line class="u" x1="113" y1="668.2" x2="120" y2="668.2"/><text class="t e" x="120" y="666">数组</text></g>
 <g id="D2a2c"><line class="u" x1="110" y1="675.2" x2="120" y2="675.2"/><text class="t e" x="120" y="673">词云图</text></g>
 <g id="D2b"><line class="u" x1="157" y1="693.2" x2="180" y2="693.2"/><text class="t e" x="180" y="691">结果数据的处理</text></g>
 <g id="D2b1"><line class="u" x1="128" y1="682.2" x2="147" y2="682.2"/><text class="t e" x="147" y="680">读取文件数据</text></g>
 <g id="D2b1a"><line class="u" x1="71" y1="682.2" x2="126" y2="682.2"/><text class="t e" x="126" y="680">open(文件路径, mode, encoding)函数</text></g>
 <g id="D2b2"><line class="u" x1="131" y1="690.2" x2="147" y2="690.2"/><text class="t e" x="147" y="688">读取工作表</text></g>
 <g id="D2b2a"><line class="u" x1="95" y1="690.2" x2="128" y2="690.2"/><text class="t e" x="128" y="688">ws.title('文件名称')</text></g>
 <g id="D2b3"><line class="u" x1="118" y1="697.2" x2="147" y2="697.2"/><text class="t e" x="147" y="695">获取数据中的最大值</text></g>
 <g id="D2b3a"><line class="u" x1="106" y1="697.2" x2="115" y2="697.2"/><text class="t e" x="115" y="695">max()</text></g>
 <g id="D2b4"><line class="u" x1="108" y1="705.2" x2="147" y2="705.2"/><text class="t e" x="147" y="703">获取数据中最大值对应的名称</text></g>
 <g id="D2b4o"><rect class="ob" x="80" y="700.5" width="23" height="5"/><text class="t mi" x="91.5" y="703">extract()函数</text></g>
 <g id="D2c"><line class="u" x1="157" y1="723.2" x2="180" y2="723.2"/><text class="t e" x="180" y="721">数据图表的绘制</text></g>
 <g id="D2c1"><line class="u" x1="131" y1="712.2" x2="147" y2="712.2"/><text class="t e" x="147" y="710">绘制柱状图</text></g>
 <g id="D2c1a"><line class="u" x1="100" y1="712.2" x2="122" y2="712.2"/><text class="t e" x="122" y="710">plt.bar()函数</text></g>
 <g id="D2c2"><line class="u" x1="129" y1="719.2" x2="147" y2="719.2"/><text class="t e" x="147" y="717">设置x轴标签</text></g>
 <g id="D2c2a"><line class="u" x1="88" y1="719.2" x2="122" y2="719.2"/><text class="t e" x="122" y="717">plt.xlabel('x轴文字')</text></g>
 <g id="D2c3"><line class="u" x1="129" y1="727.2" x2="147" y2="727.2"/><text class="t e" x="147" y="725">设置y轴标签</text></g>
 <g id="D2c3a"><line class="u" x1="88" y1="727.2" x2="122" y2="727.2"/><text class="t e" x="122" y="725">plt.ylabel('y轴文字')</text></g>
 <g id="D2c4"><line class="u" x1="134" y1="734.2" x2="147" y2="734.2"/><text class="t e" x="147" y="732">设置标题</text></g>
 <g id="D2c4a"><line class="u" x1="98" y1="734.2" x2="122" y2="734.2"/><text class="t e" x="122" y="732">plt.title('标题')</text></g>
 <g id="D2d"><line class="u" x1="148" y1="749.2" x2="180" y2="749.2"/><text class="t e" x="180" y="747">图表数据的导出和保存</text></g>
 <g id="D2d1"><line class="u" x1="97" y1="741.2" x2="138" y2="741.2"/><text class="t e" x="138" y="739">plt.savefig()函数保存图表</text></g>
 <g id="D2d2"><line class="u" x1="106" y1="749.2" x2="138" y2="749.2"/><text class="t e" x="138" y="747">pages()获取图表属性</text></g>
 <g id="D2d3"><line class="u" x1="100" y1="757.2" x2="138" y2="757.2"/><text class="t e" x="138" y="755">plt.show()显示图表的结构</text></g>
</g>

<g id="branch-file-sort" class="E">
 <g id="E0"><line class="um" x1="372" y1="254.5" x2="403" y2="254.5"/><text class="t m" x="373" y="251.5">文件自动分类</text></g>
 <g id="E1"><line class="u" x1="416" y1="217.2" x2="449" y2="217.2"/><text class="t l2" x="416" y="215">整理相机照片（上）</text></g>
 <g id="E2"><line class="u" x1="416" y1="248.2" x2="449" y2="248.2"/><text class="t l2" x="416" y="246">整理相机照片（中）</text></g>
 <g id="E3"><line class="u" x1="416" y1="294.2" x2="449" y2="294.2"/><text class="t l2" x="416" y="292">整理相机照片（下）</text></g>
 <g id="E1a"><line class="u" x1="462" y1="217.2" x2="492" y2="217.2"/><text class="t" x="462" y="215">1. 获取所有的文件名称</text></g>
 <g id="E1ag"><rect class="gb" x="500" y="203.5" width="16" height="5"/><text class="t mi" x="508" y="206">两种方法</text></g>
 <g id="E1ag1"><line class="u" x1="525" y1="201.2" x2="547" y2="201.2"/><text class="t" x="525" y="199">os.walk()函数</text></g>
 <g id="E1ag1a"><line class="u" x1="555" y1="197.2" x2="580" y2="197.2"/><text class="t" x="555" y="195">以元组的形式返回</text></g>
 <g id="E1ag1b"><line class="u" x1="555" y1="204.2" x2="590" y2="204.2"/><text class="t" x="555" y="202">返回路径、文件夹、文件</text></g>
 <g id="E1ag2"><line class="u" x1="525" y1="215.2" x2="552" y2="215.2"/><text class="t" x="525" y="213">os.listdir()函数</text></g>
 <g id="E1ag2a"><line class="u" x1="557" y1="211.2" x2="583" y2="211.2"/><text class="t" x="557" y="209">返回当前文件夹下</text></g>
 <g id="E1ag2b"><line class="u" x1="557" y1="219.2" x2="580" y2="219.2"/><text class="t" x="557" y="217">所有的文件名称</text></g>
 <g id="E1ao"><rect class="ob" x="500" y="222.5" width="49" height="5"/><text class="t mi" x="524.5" y="225">获取相机下所有的文件名称</text></g>
 <g id="E1ao1"><line class="u" x1="558" y1="227.2" x2="585" y2="227.2"/><text class="t" x="558" y="225">os.listdir()函数</text></g>
 <g id="E2a"><line class="u" x1="462" y1="249.2" x2="495" y2="249.2"/><text class="t" x="462" y="247">1. 进行一次新的文件获取</text></g>
 <g id="E2ag"><rect class="gb" x="500" y="229.5" width="29" height="5"/><text class="t mi" x="514.5" y="232">文件的移动</text></g>
 <g id="E2ag1"><line class="u" x1="539" y1="234.2" x2="633" y2="234.2"/><text class="t" x="539" y="232">移动文件是将文件从一个文件夹移动到另外的文件夹当中，并且保留文件名</text></g>
 <g id="E2o1"><rect class="ob" x="500" y="236.5" width="29" height="5"/><text class="t mi" x="514.5" y="239">获取文件后缀名</text></g>
 <g id="E2o1a"><line class="u" x1="539" y1="241.2" x2="575" y2="241.2"/><text class="t" x="539" y="239">os.path.splitext()函数</text></g>
 <g id="E2o2"><rect class="ob" x="500" y="244.5" width="29" height="5"/><text class="t mi" x="514.5" y="247">判断文件夹</text></g>
 <g id="E2o2a"><line class="u" x1="539" y1="249.2" x2="607" y2="249.2"/><text class="t" x="539" y="247">判断是否存在指定的文件夹路径 os.path.exists()</text></g>
 <g id="E2o3"><rect class="ob" x="500" y="251.5" width="29" height="5"/><text class="t mi" x="514.5" y="254">新建文件夹</text></g>
 <g id="E2o3a"><line class="u" x1="539" y1="256.2" x2="575" y2="256.2"/><text class="t" x="539" y="254">os.mkdir()函数创建文件夹</text></g>
 <g id="E2o4"><rect class="ob" x="500" y="259.5" width="29" height="5"/><text class="t mi" x="514.5" y="262">移动文件操作</text></g>
 <g id="E2o4a"><line class="u" x1="539" y1="264.2" x2="556" y2="264.2"/><text class="t" x="539" y="262">move()函数</text></g>
 <g id="E3a"><line class="u" x1="462" y1="280.2" x2="530" y2="280.2"/><text class="t" x="462" y="278">1. 获取需要分类的文件路径，并且遍历文件夹</text></g>
 <g id="E3a1"><line class="u" x1="538" y1="274.2" x2="564" y2="274.2"/><text class="t" x="538" y="272">判断是否为文件夹</text></g>
 <g id="E3a1o1"><rect class="ob" x="585" y="266.5" width="33" height="5"/><text class="t mi" x="601.5" y="269">os.path.isdir()函数</text></g>
 <g id="E3a1o2"><rect class="ob" x="585" y="273.5" width="35" height="5"/><text class="t mi" x="602.5" y="276">os.path.isfile()函数</text></g>
 <g id="E3a2"><line class="u" x1="539" y1="285.2" x2="555" y2="285.2"/><text class="t" x="539" y="283">创建文件夹</text></g>
 <g id="E3a2o"><rect class="ob" x="567" y="280.5" width="30" height="5"/><text class="t mi" x="582" y="283">os.makedirs()函数</text></g>
 <g id="E3b"><line class="u" x1="462" y1="296.2" x2="498" y2="296.2"/><text class="t" x="462" y="294">2. 通过文件类型创建文件夹</text></g>
 <g id="E3b1"><line class="u" x1="508" y1="293.2" x2="537" y2="293.2"/><text class="t" x="508" y="291">根据类型创建文件夹</text></g>
 <g id="E3b1o"><rect class="ob" x="545" y="288.5" width="32" height="5"/><text class="t mi" x="561" y="291">os.path.join()函数</text></g>
 <g id="E3b2"><line class="u" x1="508" y1="300.2" x2="521" y2="300.2"/><text class="t" x="508" y="298">移动文件</text></g>
 <g id="E3b2o"><rect class="ob" x="545" y="295.5" width="31" height="5"/><text class="t mi" x="560.5" y="298">shutil.move()函数</text></g>
 <g id="E3c"><line class="u" x1="462" y1="308.2" x2="510" y2="308.2"/><text class="t" x="462" y="306">3. 遍历文件夹中所有文件进行分类</text></g>
 <g id="E3co"><rect class="ob" x="519" y="303.5" width="30" height="5"/><text class="t mi" x="534" y="306">shutil.move()函数</text></g>
</g>

<g id="branch-photo" class="F">
 <g id="F0"><line class="um" x1="372" y1="345.5" x2="426" y2="345.5"/><text class="t m" x="373" y="342.5">图片信息批量提取与分类</text></g>
 <g id="F1"><line class="u" x1="433" y1="330.2" x2="463" y2="330.2"/><text class="t l2" x="433" y="328">编辑的照片（上）</text></g>
 <g id="F2"><line class="u" x1="433" y1="362.2" x2="463" y2="362.2"/><text class="t l2" x="433" y="360">编辑的照片（下）</text></g>
 <g id="F1a"><line class="u" x1="475" y1="324.2" x2="492" y2="324.2"/><text class="t" x="475" y="322">1. 限定提取</text></g>
 <g id="F1ag1"><rect class="gb" x="501" y="314.5" width="17" height="5"/><text class="t mi" x="509.5" y="317">文件读取</text></g>
 <g id="F1ag2"><rect class="gb" x="501" y="322.5" width="17" height="5"/><text class="t mi" x="509.5" y="325">图片读取</text></g>
 <g id="F1b"><line class="u" x1="473" y1="338.2" x2="504" y2="338.2"/><text class="t" x="473" y="336">2. 提取照片文件数据</text></g>
 <g id="F1b1"><line class="u" x1="517" y1="335.2" x2="543" y2="335.2"/><text class="t" x="517" y="333">获取照片的元数据</text></g>
 <g id="F1b1o"><rect class="ob" x="552" y="330.5" width="31" height="5"/><text class="t mi" x="567.5" y="333">exifread模块读取</text></g>
 <g id="F1b2"><line class="u" x1="517" y1="342.2" x2="543" y2="342.2"/><text class="t" x="517" y="340">解析照片的元数据</text></g>
 <g id="F1b2o"><rect class="ob" x="552" y="337.5" width="33" height="5"/><text class="t mi" x="568.5" y="340">process_file()函数</text></g>
 <g id="F2a"><rect class="ob" x="472" y="348.5" width="39" height="5"/><text class="t mi" x="491.5" y="351">1. 获取照片的元数据和信息</text></g>
 <g id="F2a1"><line class="u" x1="517" y1="349.2" x2="538" y2="349.2"/><text class="t" x="517" y="347">获取Exif信息</text></g>
 <g id="F2a1a"><line class="u" x1="557" y1="349.2" x2="592" y2="349.2"/><text class="t" x="557" y="347">exifread.process_file()</text></g>
 <g id="F2a2"><line class="u" x1="517" y1="356.2" x2="536" y2="356.2"/><text class="t" x="517" y="354">获取位置信息</text></g>
 <g id="F2a2a"><line class="u" x1="557" y1="356.2" x2="596" y2="356.2"/><text class="t" x="557" y="354">tags['GPS GPSLatitude']</text></g>
 <g id="F2b"><line class="u" x1="475" y1="365.2" x2="499" y2="365.2"/><text class="t" x="475" y="363">2. 判断位置信息</text></g>
 <g id="F2b1"><line class="u" x1="512" y1="365.2" x2="525" y2="365.2"/><text class="t" x="512" y="363">分割位置</text></g>
 <g id="F2b1o"><rect class="ob" x="539" y="360.5" width="22" height="5"/><text class="t mi" x="550" y="363">split()函数</text></g>
 <g id="F2c"><line class="u" x1="475" y1="372.2" x2="515" y2="372.2"/><text class="t" x="475" y="370">3. 把照片分类到相应文件夹</text></g>
 <g id="F2co"><rect class="ob" x="521" y="367.5" width="30" height="5"/><text class="t mi" x="536" y="370">shutil.move()函数</text></g>
</g>

<g id="branch-excel-read" class="G">
 <g id="G0"><line class="um" x1="372" y1="469.5" x2="404" y2="469.5"/><text class="t m" x="373" y="466.5">Excel文档读取</text></g>
 <g id="G1"><line class="u" x1="417" y1="423.2" x2="447" y2="423.2"/><text class="t l2" x="417" y="421">同学的网站（上）</text></g>
 <g id="G2"><line class="u" x1="417" y1="487.2" x2="447" y2="487.2"/><text class="t l2" x="417" y="485">同学的网站（中）</text></g>
 <g id="G3"><line class="u" x1="417" y1="516.2" x2="447" y2="516.2"/><text class="t l2" x="417" y="514">同学的网站（下）</text></g>
 <g id="G1a"><line class="u" x1="458" y1="424.2" x2="503" y2="424.2"/><text class="t" x="458" y="422">1. 读取表格下的Excel表格数据</text></g>
 <g id="G1ag"><rect class="gb" x="512" y="396.5" width="35" height="5"/><text class="t mi" x="529.5" y="399">Excel表格的结构说明</text></g>
 <g id="G1ag1"><line class="u" x1="557" y1="401.2" x2="567" y2="401.2"/><text class="t" x="557" y="399">工作簿</text></g>
 <g id="G1ag1a"><line class="u" x1="578" y1="391.2" x2="590" y2="391.2"/><text class="t" x="578" y="389">工作表1</text></g>
 <g id="G1ag1a1"><line class="u" x1="602" y1="383.2" x2="616" y2="383.2"/><text class="t" x="602" y="381">单元格A1</text></g>
 <g id="G1ag1a2"><line class="u" x1="602" y1="391.2" x2="616" y2="391.2"/><text class="t" x="602" y="389">单元格B1</text></g>
 <g id="G1ag1a3"><line class="u" x1="602" y1="398.2" x2="615" y2="398.2"/><text class="t" x="602" y="396">单元格...</text></g>
 <g id="G1ag1b"><line class="u" x1="578" y1="405.2" x2="590" y2="405.2"/><text class="t" x="578" y="403">工作表2</text></g>
 <g id="G1ag1c"><line class="u" x1="578" y1="413.2" x2="591" y2="413.2"/><text class="t" x="578" y="411">工作表...</text></g>
 <g id="G1ao1"><rect class="ob" x="512" y="420.5" width="41" height="5"/><text class="t mi" x="532.5" y="423">openpyxl模块的安装和导入</text></g>
 <g id="G1ao1a"><line class="u" x1="562" y1="420.2" x2="602" y2="420.2"/><text class="t" x="562" y="418">安装 pip install openpyxl</text></g>
 <g id="G1ao1b"><line class="u" x1="562" y1="428.2" x2="596" y2="428.2"/><text class="t" x="562" y="426">导入 import openpyxl</text></g>
 <g id="G1ao2"><rect class="ob" x="512" y="430.5" width="41" height="5"/><text class="t mi" x="532.5" y="433">读取工作簿（workbook）</text></g>
 <g id="G1ao2a"><line class="u" x1="562" y1="435.2" x2="634" y2="435.2"/><text class="t" x="562" y="433">wb = openpyxl.load_workbook('工作簿路径')</text></g>
 <g id="G1ao3"><rect class="ob" x="512" y="441.5" width="43" height="5"/><text class="t mi" x="533.5" y="444">读取指定工作表（worksheet）</text></g>
 <g id="G1ao3a"><line class="u" x1="570" y1="443.2" x2="618" y2="443.2"/><text class="t" x="570" y="441">获取所有工作表名称 wb.sheetnames</text></g>
 <g id="G1ao3b"><line class="u" x1="570" y1="450.2" x2="632" y2="450.2"/><text class="t" x="570" y="448">获取指定工作表 sheet = wb['工作表名称']</text></g>
 <g id="G2a"><line class="u" x1="458" y1="488.2" x2="497" y2="488.2"/><text class="t" x="458" y="481">2. 找到计算的一个单元格，</text><text class="t" x="458" y="486">与这里所有行的数据进行对比</text></g>
 <g id="G2a1"><line class="u" x1="512" y1="477.2" x2="538" y2="477.2"/><text class="t" x="512" y="475">获取单元格的数据</text></g>
 <g id="G2a1o1"><rect class="ob" x="547" y="461.5" width="41" height="5"/><text class="t mi" x="567.5" y="464">读取指定的单元格（cell）</text></g>
 <g id="G2a1o1a"><line class="u" x1="597" y1="456.2" x2="660" y2="456.2"/><text class="t" x="597" y="454">获取指定单元格对象 sheet['行列单元格']</text></g>
 <g id="G2a1o1b"><line class="u" x1="597" y1="464.2" x2="668" y2="464.2"/><text class="t" x="597" y="462">获取单元格的值 sheet['行列单元格'].value</text></g>
 <g id="G2a1o1c"><line class="u" x1="597" y1="477.2" x2="680" y2="477.2"/><text class="t" x="597" y="470">读取工作表时，设置参数后可以获取到公式的结果</text><text class="t" x="597" y="475">wb = openpyxl.load_workbook(路径, data_only=True)</text></g>
 <g id="G2a1o2"><rect class="ob" x="547" y="482.5" width="36" height="5"/><text class="t mi" x="565" y="485">工作表行列数据的获取</text></g>
 <g id="G2a1o2a"><line class="u" x1="590" y1="483.2" x2="647" y2="483.2"/><text class="t" x="590" y="481">获取工作表所有行的数据 sheet.rows</text></g>
 <g id="G2a1o2b"><line class="u" x1="590" y1="491.2" x2="655" y2="491.2"/><text class="t" x="590" y="489">获取工作表所有列的数据 sheet.columns</text></g>
 <g id="G2a2"><line class="u" x1="512" y1="499.2" x2="560" y2="499.2"/><text class="t" x="512" y="497">行数据的读取和写入到对应的数据中</text></g>
 <g id="G3a"><line class="u" x1="458" y1="509.2" x2="540" y2="509.2"/><text class="t" x="458" y="507">1. 获取总行以上的数据，计算每个学生的总分</text></g>
 <g id="G3a1"><line class="u" x1="566" y1="505.2" x2="585" y2="505.2"/><text class="t" x="566" y="503">定义一个函数</text></g>
 <g id="G3a2"><line class="u" x1="566" y1="513.2" x2="579" y2="513.2"/><text class="t" x="566" y="511">调用函数</text></g>
 <g id="G3b"><line class="u" x1="458" y1="524.2" x2="540" y2="524.2"/><text class="t" x="458" y="522">2. 找出分数最高的学生，获取数据中的最大值</text></g>
 <g id="G3bo1"><rect class="ob" x="563" y="515.5" width="31" height="5"/><text class="t mi" x="578.5" y="518">获取数据的总和</text></g>
 <g id="G3bo1a"><line class="u" x1="598" y1="520.2" x2="612" y2="520.2"/><text class="t" x="598" y="518">sum()函数</text></g>
 <g id="G3bo2"><rect class="ob" x="563" y="523.5" width="31" height="5"/><text class="t mi" x="578.5" y="526">获取结果的最大值</text></g>
 <g id="G3bo2a"><line class="u" x1="605" y1="528.2" x2="620" y2="528.2"/><text class="t" x="605" y="526">max()函数</text></g>
</g>

<g id="branch-excel-write" class="H">
 <g id="H0"><line class="um" x1="361" y1="596.5" x2="394" y2="596.5"/><text class="t m" x="362" y="593.5">Excel文档写入</text></g>
 <g id="H1"><line class="u" x1="405" y1="570.2" x2="442" y2="570.2"/><text class="t l2" x="405" y="568">同学忙不过来了（上）</text></g>
 <g id="H2"><line class="u" x1="405" y1="624.2" x2="442" y2="624.2"/><text class="t l2" x="405" y="622">同学忙不过来了（下）</text></g>
 <g id="H1a"><rect class="ob" x="451" y="543.5" width="29" height="5"/><text class="t mi" x="465.5" y="546">1. 创建一个新工作簿</text></g>
 <g id="H1a1"><line class="u" x1="496" y1="543.2" x2="533" y2="543.2"/><text class="t" x="496" y="541">openpyxl.Workbook()函数</text></g>
 <g id="H1a2"><line class="u" x1="496" y1="551.2" x2="523" y2="551.2"/><text class="t" x="496" y="549">默认工作表“Sheet”</text></g>
 <g id="H1b"><line class="u" x1="453" y1="571.2" x2="510" y2="571.2"/><text class="t" x="453" y="569">2. 在工作簿中创建新的工作表并写入数据</text></g>
 <g id="H1bo1"><rect class="ob" x="526" y="554.5" width="27" height="5"/><text class="t mi" x="539.5" y="557">添加新的工作表</text></g>
 <g id="H1bo1a"><line class="u" x1="562" y1="559.2" x2="604" y2="559.2"/><text class="t" x="562" y="557">sheet.title 修改工作表的名称</text></g>
 <g id="H1bo2"><rect class="ob" x="526" y="565.5" width="21" height="5"/><text class="t mi" x="536.5" y="568">创建工作表</text></g>
 <g id="H1bo2a"><line class="u" x1="556" y1="565.2" x2="605" y2="565.2"/><text class="t" x="556" y="563">创建工作表 wb.create_sheet()</text></g>
 <g id="H1bo2b"><line class="u" x1="556" y1="573.2" x2="628" y2="573.2"/><text class="t" x="556" y="571">创建工作表 wb.create_sheet('工作表名称')</text></g>
 <g id="H1b3"><line class="u" x1="529" y1="584.2" x2="542" y2="584.2"/><text class="t" x="529" y="582">设置格式</text></g>
 <g id="H1b3o1"><rect class="ob" x="546" y="576.5" width="26" height="5"/><text class="t mi" x="559" y="579">设置数据的颜色</text></g>
 <g id="H1b3o1a"><line class="u" x1="586" y1="581.2" x2="643" y2="581.2"/><text class="t" x="586" y="579">sheet['A1'].value = value 修改数据</text></g>
 <g id="H1b3o2"><rect class="ob" x="546" y="584.5" width="26" height="5"/><text class="t mi" x="559" y="587">单元格写入数据</text></g>
 <g id="H1b3o2a"><line class="u" x1="586" y1="589.2" x2="633" y2="589.2"/><text class="t" x="586" y="587">for sheet in wb.worksheets:</text></g>
 <g id="H1c"><rect class="ob" x="452" y="591.5" width="49" height="5"/><text class="t mi" x="476.5" y="594">3. 保存到工作簿中对应的文件</text></g>
 <g id="H1c1"><line class="u" x1="512" y1="596.2" x2="557" y2="596.2"/><text class="t" x="512" y="594">wb.save('工作簿文件路径')</text></g>
 <g id="H2a"><line class="u" x1="455" y1="624.2" x2="505" y2="624.2"/><text class="t" x="455" y="622">1. 读取Excel中的数据并写入工作表</text></g>
 <g id="H2a1"><line class="u" x1="529" y1="613.2" x2="562" y2="613.2"/><text class="t" x="529" y="606">从第一个工作簿中读取</text><text class="t" x="529" y="611">自动跳过不存在的数据</text></g>
 <g id="H2a1o1"><rect class="ob" x="575" y="602.5" width="41" height="5"/><text class="t mi" x="595.5" y="605">判断表格中是否存在重复数据</text></g>
 <g id="H2a1o1a"><line class="u" x1="620" y1="603.2" x2="636" y2="603.2"/><text class="t" x="620" y="601">字符串拼接</text></g>
 <g id="H2a1o1a1"><line class="u" x1="648" y1="603.2" x2="668" y2="603.2"/><text class="t" x="648" y="601">f'{rows-1}'</text></g>
 <g id="H2a1o1b"><line class="u" x1="620" y1="610.2" x2="630" y2="610.2"/><text class="t" x="620" y="608">新数据</text></g>
 <g id="H2a1o1b1"><line class="u" x1="645" y1="610.2" x2="660" y2="610.2"/><text class="t" x="645" y="608">f'{s.ws}'</text></g>
 <g id="H2a1o2"><rect class="ob" x="576" y="612.5" width="18" height="5"/><text class="t mi" x="585" y="615">判断数据</text></g>
 <g id="H2a1o2a"><line class="u" x1="603" y1="617.2" x2="680" y2="617.2"/><text class="t" x="603" y="615">sheet.get('表格的副本')新建表格的空白数据</text></g>
 <g id="H2a2"><line class="u" x1="529" y1="626.2" x2="585" y2="626.2"/><text class="t" x="529" y="624">将读入的数据写入到对应的工作表中</text></g>
 <g id="H2a2o"><rect class="ob" x="591" y="621.5" width="21" height="5"/><text class="t mi" x="601.5" y="624">数据的储存</text></g>
 <g id="H2a2o1"><line class="u" x1="627" y1="626.2" x2="668" y2="626.2"/><text class="t" x="627" y="624">sheet.append(数据列表)</text></g>
 <g id="H2a3"><line class="u" x1="529" y1="636.2" x2="588" y2="636.2"/><text class="t" x="529" y="634">获取了新表格中的数据之后合并多个表格</text></g>
 <g id="H2a3a"><line class="u" x1="600" y1="633.2" x2="613" y2="633.2"/><text class="t" x="600" y="631">合并数据</text></g>
 <g id="H2a3b"><line class="u" x1="600" y1="641.2" x2="613" y2="641.2"/><text class="t" x="600" y="639">保存数据</text></g>
</g>
</svg>
